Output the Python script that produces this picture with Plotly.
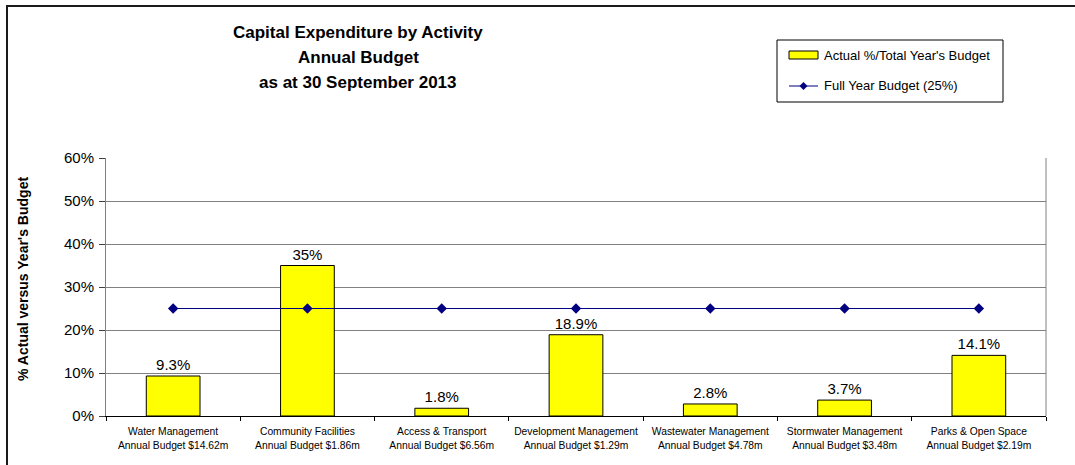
import plotly.graph_objects as go

# Activities (two-line axis labels) and their values
activities = [
    "Water Management<br>Annual Budget $14.62m",
    "Community Facilities<br>Annual Budget $1.86m",
    "Access & Transport<br>Annual Budget $6.56m",
    "Development Management<br>Annual Budget $1.29m",
    "Wastewater Management<br>Annual Budget $4.78m",
    "Stormwater Management<br>Annual Budget $3.48m",
    "Parks & Open Space<br>Annual Budget $2.19m",
]
actual_pct = [9.3, 35, 1.8, 18.9, 2.8, 3.7, 14.1]
full_year_pct = [25, 25, 25, 25, 25, 25, 25]
y_ticks = [0, 10, 20, 30, 40, 50, 60]

series_names = ["Actual %/Total Year's Budget", "Full Year Budget (25%)"]
title_lines = ["Capital Expenditure by Activity", "Annual Budget",
               "as at 30 September 2013"]
y_title = "% Actual versus Year's Budget"

FONT = "Liberation Sans, Arial, sans-serif"
BAR_FILL = "#FFFF00"
LINE_COLOR = "#000080"

W, H = 1075, 465
L, R, T, B = 106, 29, 158, 49
PW, PH = W - L - R, H - T - B


def px_x(px):
    return (px - L) / PW


def px_y(py):
    return (H - B - py) / PH


fig = go.Figure()

fig.add_trace(go.Bar(
    x=activities,
    y=actual_pct,
    name=series_names[0],
    marker=dict(color=BAR_FILL, line=dict(color="#000000", width=1)),
    width=0.4,
    text=[f"{v:g}%" for v in actual_pct],
    textposition="outside",
    textfont=dict(family=FONT, size=15, color="#000000"),
    cliponaxis=False,
    showlegend=False,
))

fig.add_trace(go.Scatter(
    x=activities,
    y=full_year_pct,
    name=series_names[1],
    mode="lines+markers",
    line=dict(color=LINE_COLOR, width=1),
    marker=dict(symbol="diamond", size=8, color=LINE_COLOR),
    showlegend=False,
))


def rect(x0, y0, x1, y1, **kw):
    return dict(type="rect", xref="paper", yref="paper",
                x0=px_x(x0), x1=px_x(x1), y0=px_y(y1), y1=px_y(y0), **kw)


shapes = [
    # outer chart frame
    rect(7, 6, W + 10, H + 10, line=dict(color="#1a1a1a", width=2),
         fillcolor="rgba(0,0,0,0)", layer="below"),
    # right edge of the plot area
    dict(type="line", xref="paper", yref="paper", x0=1, x1=1, y0=0, y1=1,
         line=dict(color="#808080", width=1)),
    # legend box
    rect(777, 40, 1003, 102, line=dict(color="#000000", width=1),
         fillcolor="#FFFFFF"),
    # legend swatch: bar series
    rect(789, 51, 818, 59, line=dict(color="#000000", width=1),
         fillcolor=BAR_FILL),
    # legend swatch: line series
    dict(type="line", xref="paper", yref="paper",
         x0=px_x(789), x1=px_x(818), y0=px_y(86), y1=px_y(86),
         line=dict(color=LINE_COLOR, width=1)),
]

# diamond marker on the legend line
cx, cy, r = 803.5, 86, 4
shapes.append(dict(
    type="path", xref="paper", yref="paper",
    path=(f"M{px_x(cx)},{px_y(cy - r)} L{px_x(cx + r)},{px_y(cy)} "
          f"L{px_x(cx)},{px_y(cy + r)} L{px_x(cx - r)},{px_y(cy)} Z"),
    fillcolor=LINE_COLOR, line=dict(color=LINE_COLOR, width=0),
))

annotations = []
for text, yc in zip(title_lines, [32, 57.5, 83]):
    annotations.append(dict(
        text=f"<b>{text}</b>", xref="paper", yref="paper",
        x=px_x(358), y=px_y(yc), xanchor="center", yanchor="middle",
        showarrow=False, font=dict(family=FONT, size=17, color="#000000"),
    ))

annotations.append(dict(
    text=f"<b>{y_title}</b>", xref="paper", yref="paper",
    x=px_x(23), y=px_y(279), xanchor="center", yanchor="middle",
    textangle=-90, showarrow=False,
    font=dict(family=FONT, size=14, color="#000000"),
))

for text, yc in zip(series_names, [55.5, 86]):
    annotations.append(dict(
        text=text, xref="paper", yref="paper",
        x=px_x(822), y=px_y(yc), xanchor="left", yanchor="middle",
        showarrow=False, font=dict(family=FONT, size=13, color="#000000"),
    ))

fig.update_layout(
    width=W, height=H,
    margin=dict(l=L, r=R, t=T, b=B, pad=0, autoexpand=False),
    paper_bgcolor="#FFFFFF",
    plot_bgcolor="#FFFFFF",
    font=dict(family=FONT, color="#000000"),
    showlegend=False,
    shapes=shapes,
    annotations=annotations,
)

fig.update_xaxes(
    type="category",
    automargin=False,
    tickangle=0,
    showline=True, linecolor="#000000", linewidth=1,
    ticks="outside", tickson="boundaries", ticklen=4, tickcolor="#000000",
    ticklabelstandoff=6,
    tickfont=dict(family=FONT, size=10.3, color="#000000"),
    showgrid=False,
)

fig.update_yaxes(
    automargin=False,
    range=[0, 60],
    tickvals=y_ticks,
    ticktext=[f"{v}%" for v in y_ticks],
    showline=True, linecolor="#808080", linewidth=1,
    ticks="outside", ticklen=6, tickcolor="#404040",
    ticklabelstandoff=2,
    tickfont=dict(family=FONT, size=15, color="#000000"),
    showgrid=True, gridcolor="#808080", gridwidth=1,
    zeroline=False,
)

fig.write_html("out.html")
